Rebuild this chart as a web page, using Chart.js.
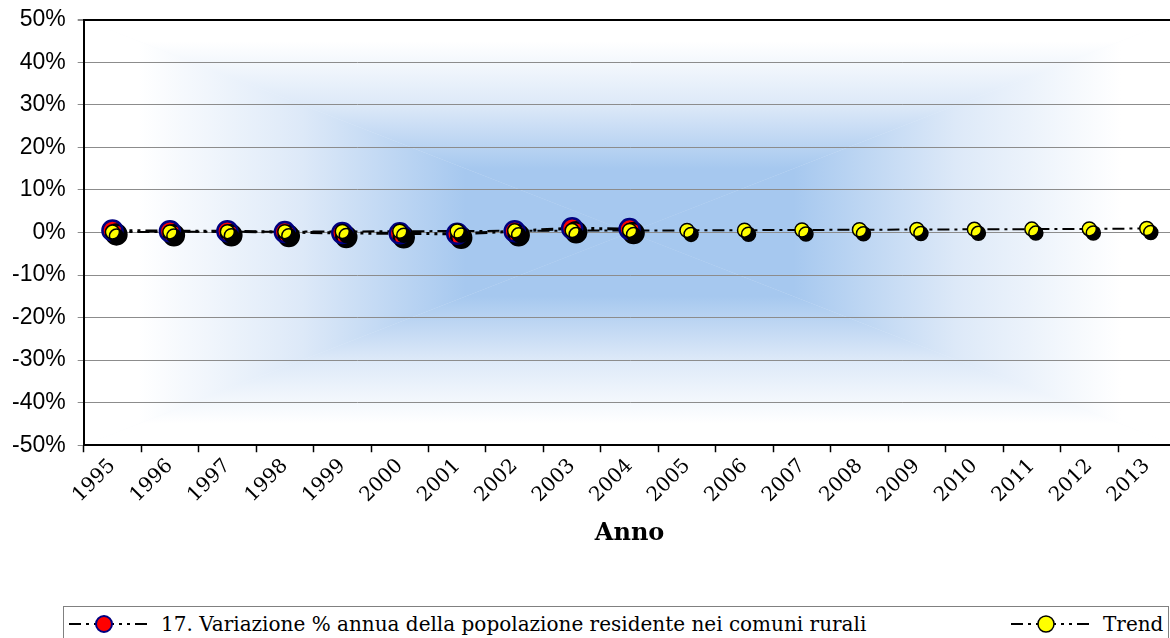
<!DOCTYPE html>
<html>
<head>
<meta charset="utf-8">
<script src="https://cdn.jsdelivr.net/npm/chart.js@4"></script>
<style>
  body { margin: 0; background: #fff; overflow: hidden; width: 1170px; height: 638px; position: relative; }
  #chart { position: absolute; left: 0; top: -6px; }
  .legend {
    position: absolute; left: 63px; top: 606px; width: 1104px; height: 40px;
    border: 1px solid #808080; background: #fff;
    font-family: "DejaVu Serif", serif; font-size: 20px; color: #000;
  }
  .legend .item { position: absolute; top: 4px; display: flex; align-items: center; white-space: nowrap; }
  .legend svg { margin-right: 8px; }
</style>
</head>
<body>
<canvas id="chart" width="1188" height="554"></canvas>
<div class="legend">
  <div class="item" style="left: 3px;">
    <svg width="86" height="26"><line x1="2" y1="13" x2="84" y2="13" stroke="#000" stroke-width="2" stroke-dasharray="12,5,3,5,3,5"></line><circle cx="37" cy="13" r="8" fill="#ff0000" stroke="#000080" stroke-width="2"></circle></svg>
    <span>17. Variazione % annua della popolazione residente nei comuni rurali</span>
  </div>
  <div class="item" style="left: 945px;">
    <svg width="86" height="26"><line x1="2" y1="13" x2="84" y2="13" stroke="#000" stroke-width="2" stroke-dasharray="12,5,3,5,3,5"></line><circle cx="37" cy="13" r="8" fill="#ffff00" stroke="#000" stroke-width="1.5"></circle></svg>
    <span>Trend</span>
  </div>
</div>
<script>
const anni = ["1995", "1996", "1997", "1998", "1999", "2000", "2001", "2002", "2003", "2004",
  "2005", "2006", "2007", "2008", "2009", "2010", "2011", "2012", "2013"];
// variazione % annua (solo 1995-2004)
const variazione = [0.5, 0.3, 0.3, 0.1, -0.1, -0.2, -0.3, 0.3, 1.0, 0.8,
  null, null, null, null, null, null, null, null, null];
const trend = [0.1, 0.15, 0.2, 0.2, 0.25, 0.3, 0.35, 0.4, 0.45, 0.5,
  0.5, 0.55, 0.6, 0.65, 0.7, 0.75, 0.8, 0.85, 0.95];
const yMin = -50;
const yMax = 50;
const yStep = 10;

// sfondo con sfumatura dal centro (forma a X)
const sfondo = {
  id: "sfondo",
  beforeDraw(chart) {
    const { ctx, chartArea: a } = chart;
    const cx = (a.left + a.right) / 2;
    const cy = (a.top + a.bottom) / 2;
    const blue = "#a6c8ef";
    const white = "#ffffff";
    const tri = (pts, g) => {
      ctx.beginPath();
      ctx.moveTo(pts[0][0], pts[0][1]);
      ctx.lineTo(pts[1][0], pts[1][1]);
      ctx.lineTo(pts[2][0], pts[2][1]);
      ctx.closePath();
      ctx.fillStyle = g;
      ctx.fill();
    };
    const grad = (x0, y0, x1, y1) => {
      const g = ctx.createLinearGradient(x0, y0, x1, y1);
      g.addColorStop(0, white);
      g.addColorStop(0.1, white);
      g.addColorStop(0.4, "#dde9f8");
      g.addColorStop(0.7, blue);
      g.addColorStop(1, blue);
      return g;
    };
    ctx.save();
    // base piena per nascondere le giunture tra i triangoli
    const base = ctx.createLinearGradient(a.left, 0, a.right, 0);
    base.addColorStop(0, white);
    base.addColorStop(0.5, "#c4daf4");
    base.addColorStop(1, white);
    ctx.fillStyle = base;
    ctx.fillRect(a.left, a.top, a.right - a.left, a.bottom - a.top);
    tri([[a.left, a.top], [a.right, a.top], [cx, cy]], grad(0, a.top, 0, cy));
    tri([[a.left, a.bottom], [a.right, a.bottom], [cx, cy]], grad(0, a.bottom, 0, cy));
    tri([[a.left, a.top], [a.left, a.bottom], [cx, cy]], grad(a.left, 0, cx, 0));
    tri([[a.right, a.top], [a.right, a.bottom], [cx, cy]], grad(a.right, 0, cx, 0));
    ctx.restore();
  }
};

// ombra nera sotto i marcatori
const ombra = {
  id: "ombra",
  beforeDatasetDraw(chart, args) {
    const ds = chart.data.datasets[args.index];
    if (!ds.ombra) return;
    chart.ctx.save();
    chart.ctx.shadowColor = "#000";
    chart.ctx.shadowOffsetX = 4;
    chart.ctx.shadowOffsetY = 4;
    chart.ctx.shadowBlur = 0;
  },
  afterDatasetDraw(chart, args) {
    const ds = chart.data.datasets[args.index];
    if (!ds.ombra) return;
    chart.ctx.restore();
  }
};

const ctx = document.getElementById("chart").getContext("2d");
new Chart(ctx, {
  type: "line",
  data: {
    labels: anni,
    datasets: [
      {
        label: "Trend punti",
        data: trend,
        showLine: false,
        pointRadius: 7,
        pointBackgroundColor: "#ffff00",
        pointBorderColor: "#000",
        pointBorderWidth: 1.5,
        ombra: true,
        order: 1,
      },
      {
        label: "Variazione punti",
        data: variazione,
        showLine: false,
        pointRadius: 10,
        pointBackgroundColor: "#ff0000",
        pointBorderColor: "#000080",
        pointBorderWidth: 2.5,
        ombra: true,
        order: 2,
      },
      {
        label: "Trend",
        data: trend,
        borderColor: "#000",
        borderWidth: 2,
        borderDash: [12, 5, 3, 5],
        pointRadius: 0,
        order: 3,
      },
      {
        label: "17. Variazione % annua della popolazione residente nei comuni rurali",
        data: variazione,
        borderColor: "#000",
        borderWidth: 3,
        borderDash: [12, 5, 3, 5, 3, 5],
        pointRadius: 0,
        order: 4,
      },
    ],
  },
  options: {
    responsive: false,
    animation: false,
    layout: { padding: { top: 1, left: 0, right: 0, bottom: 0 } },
    plugins: {
      legend: { display: false },
      tooltip: { enabled: false },
    },
    scales: {
      x: {
        offset: true,
        grid: {
          offset: true,
          drawOnChartArea: false,
          tickLength: 7,
          tickColor: "#000",
          tickWidth: 1.5,
        },
        border: { color: "#000", width: 2 },
        ticks: {
          minRotation: 45,
          maxRotation: 45,
          color: "#000",
          padding: 2,
          font: { family: "'DejaVu Serif'", size: 20 },
        },
        title: {
          display: true,
          text: "Anno",
          color: "#000",
          padding: { top: 10, bottom: 0 },
          font: { family: "'DejaVu Serif'", size: 24, weight: "bold" },
        },
      },
      y: {
        min: yMin,
        max: yMax,
        grid: {
          color: (c) => (c.tick && c.tick.value === yMax ? "#000" : "#8c8c8c"),
          lineWidth: (c) => (c.tick && c.tick.value === yMax ? 2 : 1),
          tickColor: "#8c8c8c",
          tickLength: 6,
        },
        border: { color: "#000", width: 2 },
        ticks: {
          stepSize: yStep,
          color: "#000",
          padding: 12,
          font: { family: "'Liberation Sans'", size: 23 },
          callback: (v) => v + "%",
        },
      },
    },
  },
  plugins: [sfondo, ombra],
});
</script>
</body>
</html>
